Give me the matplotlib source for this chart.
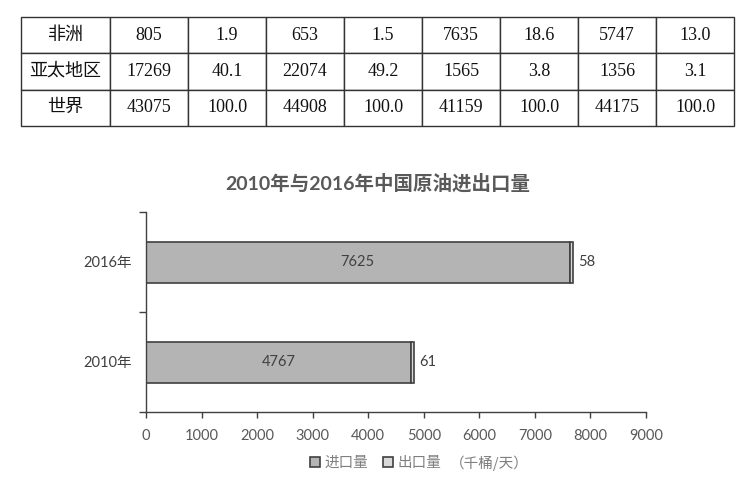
import matplotlib.pyplot as plt
from matplotlib.patches import Patch

# table rows (top part of the picture)
table_names = ['非洲', '亚太地区', '世界']
table_values = [
    ['805', '1.9', '653', '1.5', '7635', '18.6', '5747', '13.0'],
    ['17269', '40.1', '22074', '49.2', '1565', '3.8', '1356', '3.1'],
    ['43075', '100.0', '44908', '100.0', '41159', '100.0', '44175', '100.0'],
]

# bar chart data
years = ['2010年', '2016年']
imports = [4767, 7625]
exports = [61, 58]
x_ticks = [0, 1000, 2000, 3000, 4000, 5000, 6000, 7000, 8000, 9000]

W, H = 742, 482
fig = plt.figure(figsize=(W / 100, H / 100), dpi=100)

# ---- table ----
ax_t = fig.add_axes([0, 0, 1, 1])
ax_t.axis('off')
cells = [[n] + v for n, v in zip(table_names, table_values)]
col_w = [89] + [78] * 8
tot = sum(col_w)
tbl = ax_t.table(cellText=cells, colWidths=[c / tot for c in col_w],
                 cellLoc='center',
                 bbox=[21 / W, 1 - 126 / H, tot / W, 109 / H])
tbl.auto_set_font_size(False)
for (r, c), cell in tbl.get_celld().items():
    cell.set_edgecolor('#333333')
    cell.set_linewidth(1.0)
    t = cell.get_text()
    t.set_fontsize(13)
    t.set_fontfamily(['Liberation Serif', 'Noto Sans CJK SC'])
    t.set_color('#111111')

# ---- bar chart ----
ax = fig.add_axes([146 / W, 1 - 412 / H, 500 / W, 200 / H])
ypos = list(range(len(years)))
ax.barh(ypos, imports, height=0.41, color='#b4b4b4', edgecolor='#404040', linewidth=1.2)
ax.barh(ypos, exports, left=imports, height=0.41, color='#d9d9d9',
        edgecolor='#404040', linewidth=1.2)

lab_font = ['Lato', 'Noto Sans CJK SC']
for y, imp, exp in zip(ypos, imports, exports):
    ax.text(imp / 2, y, str(imp), ha='center', va='center', fontsize=10.5,
            color='#404040', family=lab_font)
    ax.text(imp + exp + 90, y, str(exp), ha='left', va='center', fontsize=10.5,
            color='#404040', family=lab_font)

ax.set_xlim(0, 9000)
ax.set_ylim(-0.5, len(years) - 0.5)
ax.set_xticks(x_ticks)
ax.set_xticklabels([str(v) for v in x_ticks], fontsize=10.5, color='#595959', family=lab_font)
ax.set_yticks(ypos)
ax.set_yticklabels(years, fontsize=10.5, color='#404040', family=lab_font)
ax.set_yticks([-0.5, 0.5, 1.5], minor=True)
ax.tick_params(axis='y', which='major', length=0, pad=10)
ax.tick_params(axis='y', which='minor', length=5, width=1, color='#404040', direction='out')
ax.tick_params(axis='x', length=4, width=1, color='#404040', pad=8)
for s in ['top', 'right']:
    ax.spines[s].set_visible(False)
for s in ['left', 'bottom']:
    ax.spines[s].set_color('#404040')
    ax.spines[s].set_linewidth(1.0)

fig.text(378 / W, 1 - 183 / H, '2010年与2016年中国原油进出口量', ha='center', va='center',
         fontsize=14, fontweight='bold', color='#595959', family=lab_font)

handles = [Patch(facecolor='#b4b4b4', edgecolor='#404040', linewidth=1.2),
           Patch(facecolor='#d9d9d9', edgecolor='#404040', linewidth=1.2)]
leg = fig.legend(handles, ['进口量', '出口量'], loc='center', ncol=2,
                 bbox_to_anchor=(376 / W, 1 - 463 / H), frameon=False,
                 handlelength=0.7, handleheight=0.7, handletextpad=0.3, columnspacing=1.0,
                 prop={'family': 'Noto Sans CJK SC', 'size': 10.5})
for t in leg.get_texts():
    t.set_color('#7f7f7f')
fig.text(450 / W, 1 - 463 / H, '（千桶/天）', ha='left', va='center', fontsize=10.5,
         color='#7f7f7f', family='Noto Sans CJK SC')

fig.savefig('out.png', dpi=100)
